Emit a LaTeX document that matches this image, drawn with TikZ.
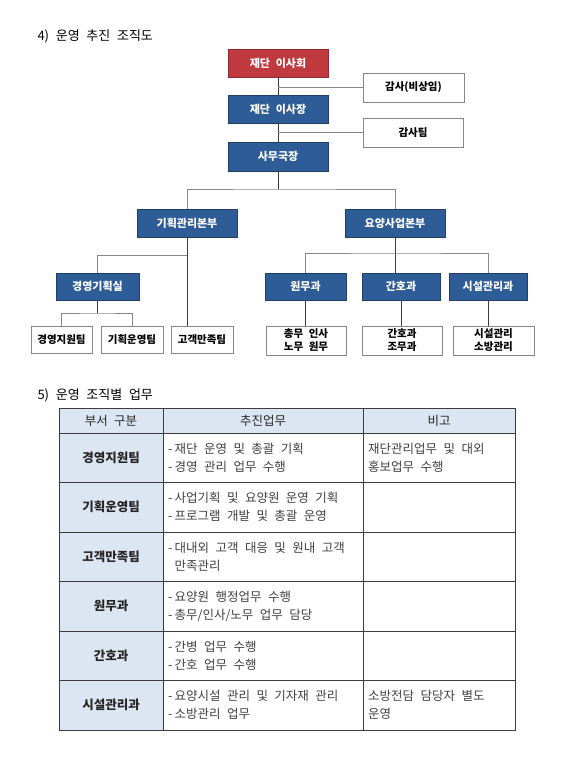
\documentclass[tikz,border=0pt]{standalone}
\usepackage{fontspec}
\setmainfont{Noto Sans CJK KR}[WordSpace=2.3]
\usepackage{xcolor}
\usepackage{tikz}
\usetikzlibrary{positioning, calc}
\definecolor{myred}{RGB}{192,57,63}
\definecolor{myblue}{RGB}{46,92,150}
\definecolor{hdrblue}{RGB}{220,230,242}
\definecolor{mydark}{RGB}{60,60,60}
\definecolor{mygray}{RGB}{135,135,135}
\tikzset{
  topbox/.style={rectangle, text=white, inner sep=0pt, line width=0.8pt,
    font=\bfseries\fontsize{11}{13}\selectfont},
  redbox/.style={topbox, draw=myred!75!black, fill=myred,
    minimum width=100pt, minimum height=28pt},
  bluebox/.style={topbox, draw=myblue!70!black, fill=myblue,
    minimum height=27pt},
  whitebox/.style={rectangle, draw=mygray, fill=white, text=black,
    inner sep=0pt, align=center, line width=0.8pt,
    font=\bfseries\fontsize{10.5}{13}\selectfont},
  line/.style={color=mydark, line width=0.8pt},
  hline/.style={color=mygray, line width=0.8pt},
  grid/.style={color=mydark, line width=0.7pt},
  title/.style={anchor=west, font=\fontsize{13}{15}\selectfont},
  hdr/.style={font=\fontsize{12.5}{18}\selectfont, text=black!85},
  dept/.style={font=\bfseries\fontsize{12.5}{18}\selectfont, text=black!85},
  cell/.style={anchor=west, align=left, inner sep=0pt,
    font=\fontsize{12.5}{18}\selectfont, text=black!75}
}

\begin{document}
\begin{tikzpicture}[x=1pt, y=-1pt]
  \useasboundingbox (0,0) rectangle (580,769);

  % Titles
  \node[title] (title4) at (34,36.5) {4) 운영 추진 조직도};
  \node[title] (title5) at (34,395) {5) 운영 조직별 업무};

  % Top of chart
  \node[redbox] (board) at (278,63) {재단 이사회};
  \node[bluebox, minimum width=100pt, minimum height=28pt] (chair) at (278,109) {재단 이사장};
  \node[bluebox, minimum width=100pt, minimum height=29pt] (secgen) at (278,156.5) {사무국장};
  \node[whitebox, minimum width=101pt, minimum height=29pt] (audit) at (413.5,87.5) {감사(비상임)};
  \node[whitebox, minimum width=100pt, minimum height=29pt] (auditteam) at (413,132.5) {감사팀};

  \draw[line] (board) -- (chair);
  \draw[line] (chair) -- (secgen);
  \draw[hline] (board.south |- audit.west) -- (audit.west);
  \draw[hline] (chair.south |- auditteam.west) -- (auditteam.west);

  % Headquarters
  \node[bluebox, minimum width=100pt, minimum height=28pt] (plan) at (187,223) {기획관리본부};
  \node[bluebox, minimum width=100pt, minimum height=28pt] (care) at (395,223) {요양사업본부};
  \coordinate (bus1) at (278,189);
  \draw[line] (secgen.south) -- (bus1);
  \draw[hline] (plan.north) |- (bus1) -| (care.north);

  % Planning side
  \node[bluebox, minimum width=83pt] (office) at (97.5,286.5) {경영기획실};
  \node[whitebox, minimum width=61pt, minimum height=27pt] (support) at (61.5,339.5) {경영지원팀};
  \node[whitebox, minimum width=62pt, minimum height=27pt] (operate) at (132,339.5) {기획운영팀};
  \node[whitebox, minimum width=62pt, minimum height=27pt] (client) at (202,339.5) {고객만족팀};
  \coordinate (bus2) at (187,255);
  \coordinate (bus3) at (97.5,313);
  \draw[line] (plan.south) -- (plan.south |- client.north);
  \draw[hline] (bus2) -| (office.north);
  \draw[line] (office.south) -- (bus3);
  \draw[hline] (support.north) |- (bus3) -| (operate.north);

  % Care side
  \node[bluebox, minimum width=81pt] (admin) at (305.5,286.5) {원무과};
  \node[bluebox, minimum width=78pt] (nursing) at (401,286.5) {간호과};
  \node[bluebox, minimum width=78pt] (facility) at (488,286.5) {시설관리과};
  \node[whitebox, minimum width=80pt, minimum height=29pt] (adminjob) at (306,340.5) {총무 인사\\노무 원무};
  \node[whitebox, minimum width=80pt, minimum height=29pt] (nursejob) at (402,340.5) {간호과\\조무과};
  \node[whitebox, minimum width=81pt, minimum height=29pt] (facilityjob) at (493.5,340.5) {시설관리\\소방관리};
  \coordinate (bus4) at (395,253);
  \draw[line] (care.south) -- (care.south |- nursing.north);
  \draw[hline] (admin.north) |- (bus4) -| (facility.north);
  \draw[line] (admin.south) -- (admin.south |- adminjob.north);
  \draw[line] (nursing.south) -- (nursing.south |- nursejob.north);
  \draw[line] (facility.south) -- (facility.south |- facilityjob.north);

  % Table
  \fill[hdrblue] (59,408) rectangle (515,433);
  \fill[hdrblue] (59,433) rectangle (163,730);
  \draw[grid] (59,408) rectangle (515,730);
  \foreach \y in {433,482.5,532,581.5,631,680.5}
    \draw[grid] (59,\y) -- (515,\y);
  \foreach \x in {163,363}
    \draw[grid] (\x,408) -- (\x,730);

  \node[hdr] (hdrdept) at (111,420.5) {부서 구분};
  \node[hdr] (hdrtask) at (263,420.5) {추진업무};
  \node[hdr] (hdrnote) at (439,420.5) {비고};

  \node[dept] (rowa) at (111,457.75) {경영지원팀};
  \node[dept] (rowb) at (111,507.25) {기획운영팀};
  \node[dept] (rowc) at (111,556.75) {고객만족팀};
  \node[dept] (rowd) at (111,606.25) {원무과};
  \node[dept] (rowe) at (111,655.75) {간호과};
  \node[dept] (rowf) at (111,705.25) {시설관리과};

  \node[cell] (taska) at (168,457.75) {-\,재단 운영 및 총괄 기획\\-\,경영 관리 업무 수행};
  \node[cell] (taskb) at (168,507.25) {-\,사업기획 및 요양원 운영 기획\\-\,프로그램 개발 및 총괄 운영};
  \node[cell] (taskc) at (168,556.75) {-\,대내외 고객 대응 및 원내 고객\\\phantom{-\,}만족관리};
  \node[cell] (taskd) at (168,606.25) {-\,요양원 행정업무 수행\\-\,총무/인사/노무 업무 담당};
  \node[cell] (taske) at (168,655.75) {-\,간병 업무 수행\\-\,간호 업무 수행};
  \node[cell] (taskf) at (168,705.25) {-\,요양시설 관리 및 기자재 관리\\-\,소방관리 업무};

  \node[cell] (notea) at (368,457.75) {재단관리업무 및 대외\\홍보업무 수행};
  \node[cell] (notef) at (368,705.25) {소방전담 담당자 별도\\운영};
\end{tikzpicture}
\end{document}
